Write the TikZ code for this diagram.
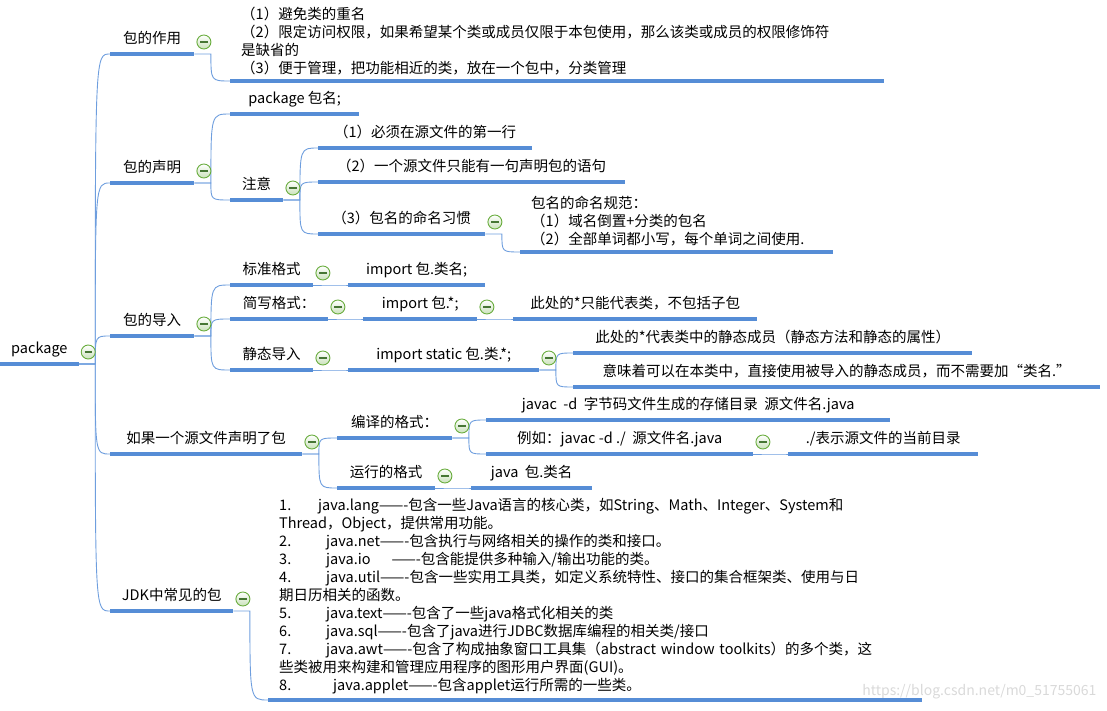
\documentclass[tikz,border=0pt]{standalone}
\usepackage{fontspec}
\setmainfont{Noto Sans CJK SC}
\definecolor{barblue}{RGB}{86,141,214}
\definecolor{lineblue}{RGB}{110,158,222}
\definecolor{mingreen}{RGB}{104,172,60}
\definecolor{minbar}{RGB}{70,118,52}
\tikzset{
	block/.style = {anchor = south west, inner xsep = 11pt, inner ysep = 6pt, font = \fontsize{14.5}{18}\selectfont},
	topic/.style = {block, inner ysep = 7.5pt, text depth = 3pt},
	bar/.style = {barblue, line width = 3.6pt},
	conn/.style = {lineblue, line width = 0.9pt},
	minmark/.style = {circle, draw = mingreen, line width = 0.9pt, inner sep = 0pt, minimum size = 14pt, top color = white, bottom color = mingreen!35,
		path picture = {\draw[minbar, line width = 1.2pt] ([xshift = -3.6pt]path picture bounding box.center) -- ([xshift = 3.6pt]path picture bounding box.center);}}
}

\begin{document}
\begin{tikzpicture}[x = 1pt, y = -1pt]
	\useasboundingbox (0,0) rectangle (1107,711);

	\node (root)[topic, minimum width = 76pt] at (0,364) {package};

	\node (a)[topic, minimum width = 84pt] at (110,54) {包的作用};
	\node (b)[topic, minimum width = 84pt] at (110,183) {包的声明};
	\node (c)[topic, minimum width = 84pt] at (110,336) {包的导入};
	\node (d)[topic, minimum width = 192pt] at (110,454) {如果一个源文件声明了包};
	\node (e)[topic, minimum width = 123pt] at (110,611) {JDK中常见的包};

	\node (a1)[block, text width = 632pt, align = left] at (230,81) {
		（1）避免类的重名\\
		（2）限定访问权限，如果希望某个类或成员仅限于本包使用，那么该类或成员的权限修饰符\\
		是缺省的\\
		（3）便于管理，把功能相近的类，放在一个包中，分类管理};

	\node (b1)[topic, minimum width = 129pt] at (230,114) {package 包名;};
	\node (b2)[topic, minimum width = 53pt] at (230,200) {注意};
	\node (b2a)[topic, minimum width = 214pt] at (318,148) {（1）必须在源文件的第一行};
	\node (b2b)[topic, minimum width = 307pt] at (318,182) {（2）一个源文件只能有一句声明包的语句};
	\node (b2c)[topic, minimum width = 167pt] at (318,234) {（3）包名的命名习惯};
	\node (b2c1)[block, text width = 291pt, align = left] at (520,252) {
		包名的命名规范：\\
		（1）域名倒置+分类的包名\\
		（2）全部单词都小写，每个单词之间使用.};

	\node (c1)[topic, minimum width = 83pt] at (230,285) {标准格式};
	\node (c1a)[topic, minimum width = 137pt] at (348,285) {import 包.类名;};
	\node (c2)[topic, minimum width = 98pt] at (230,319) {简写格式：};
	\node (c2a)[topic, minimum width = 114pt] at (363,319) {import 包.*;};
	\node (c2b)[topic, minimum width = 244pt] at (513,319) {此处的*只能代表类，不包括子包};
	\node (c3)[topic, minimum width = 83pt] at (230,370) {静态导入};
	\node (c3a)[topic, minimum width = 191pt] at (348,370) {import static 包.类.*;};
	\node (c3a1)[topic, minimum width = 399pt] at (573,353) {此处的*代表类中的静态成员（静态方法和静态的属性）};
	\node (c3a2)[topic, minimum width = 527pt] at (573,387) {意味着可以在本类中，直接使用被导入的静态成员，而不需要加“类名.”};

	\node (d1)[topic, minimum width = 115pt] at (337,438) {编译的格式：};
	\node (d1a)[topic, minimum width = 404pt] at (486,420) {javac\ \ -d\ \ 字节码文件生成的存储目录\ \ 源文件名.java};
	\node (d1b)[topic, minimum width = 267pt] at (486,454) {例如：javac -d ./\ \ 源文件名.java};
	\node (d1b1)[topic, minimum width = 190pt] at (788,454) {./表示源文件的当前目录};
	\node (d2)[topic, minimum width = 98pt] at (337,488) {运行的格式};
	\node (d2a)[topic, minimum width = 121pt] at (471,488) {java\ \ 包.类名};

	\node (e1)[block, text width = 632pt, align = left] at (268,700) {
		\makebox[39pt][l]{1.}java.lang——-包含一些Java语言的核心类，如String、Math、Integer、System和\\
		Thread，Object，提供常用功能。\\
		\makebox[47pt][l]{2.}java.net——-包含执行与网络相关的操作的类和接口。\\
		\makebox[47pt][l]{3.}java.io\hspace{21pt}——-包含能提供多种输入/输出功能的类。\\
		\makebox[47pt][l]{4.}java.util——-包含一些实用工具类，如定义系统特性、接口的集合框架类、使用与日\\
		期日历相关的函数。\\
		\makebox[47pt][l]{5.}java.text——-包含了一些java格式化相关的类\\
		\makebox[47pt][l]{6.}java.sql——-包含了java进行JDBC数据库编程的相关类/接口\\
		\makebox[47pt][l]{7.}java.awt——-包含了构成抽象窗口工具集（abstract~window~toolkits）的多个类，这\\
		些类被用来构建和管理应用程序的图形用户界面(GUI)。\\
		\makebox[54pt][l]{8.}java.applet——-包含applet运行所需的一些类。};

	\node (mark)[anchor = east, text = gray!30, font = \fontsize{14}{14}\selectfont] at (1100,692) {https://blog.csdn.net/m0\_51755061};

	\foreach \pa/\ch in {root/a, root/b, root/c, root/d, root/e, a/a1, b/b1, b/b2, b2/b2a, b2/b2b, b2/b2c, b2c/b2c1,
		c/c1, c/c2, c/c3, c1/c1a, c2/c2a, c2a/c2b, c3/c3a, c3a/c3a1, c3a/c3a2,
		d/d1, d/d2, d1/d1a, d1/d1b, d1b/d1b1, d2/d2a, e/e1}
		\draw[conn] (\pa.south east) -- ++(16.5,0) coordinate (j) .. controls (j |- \ch.south west) .. (\ch.south west);

	\foreach \n in {root, a, b, c, d, e, a1, b1, b2, b2a, b2b, b2c, b2c1, c1, c1a, c2, c2a, c2b, c3, c3a, c3a1, c3a2,
		d1, d1a, d1b, d1b1, d2, d2a, e1}
		\draw[bar] (\n.south west) -- (\n.south east);

	\foreach \n in {root, a, b, b2, b2c, c, c1, c2, c2a, c3, c3a, d, d1, d1b, d2, e}
		\node[minmark] at ([shift = {(9.5,-12)}]\n.south east) {};
\end{tikzpicture}
\end{document}
